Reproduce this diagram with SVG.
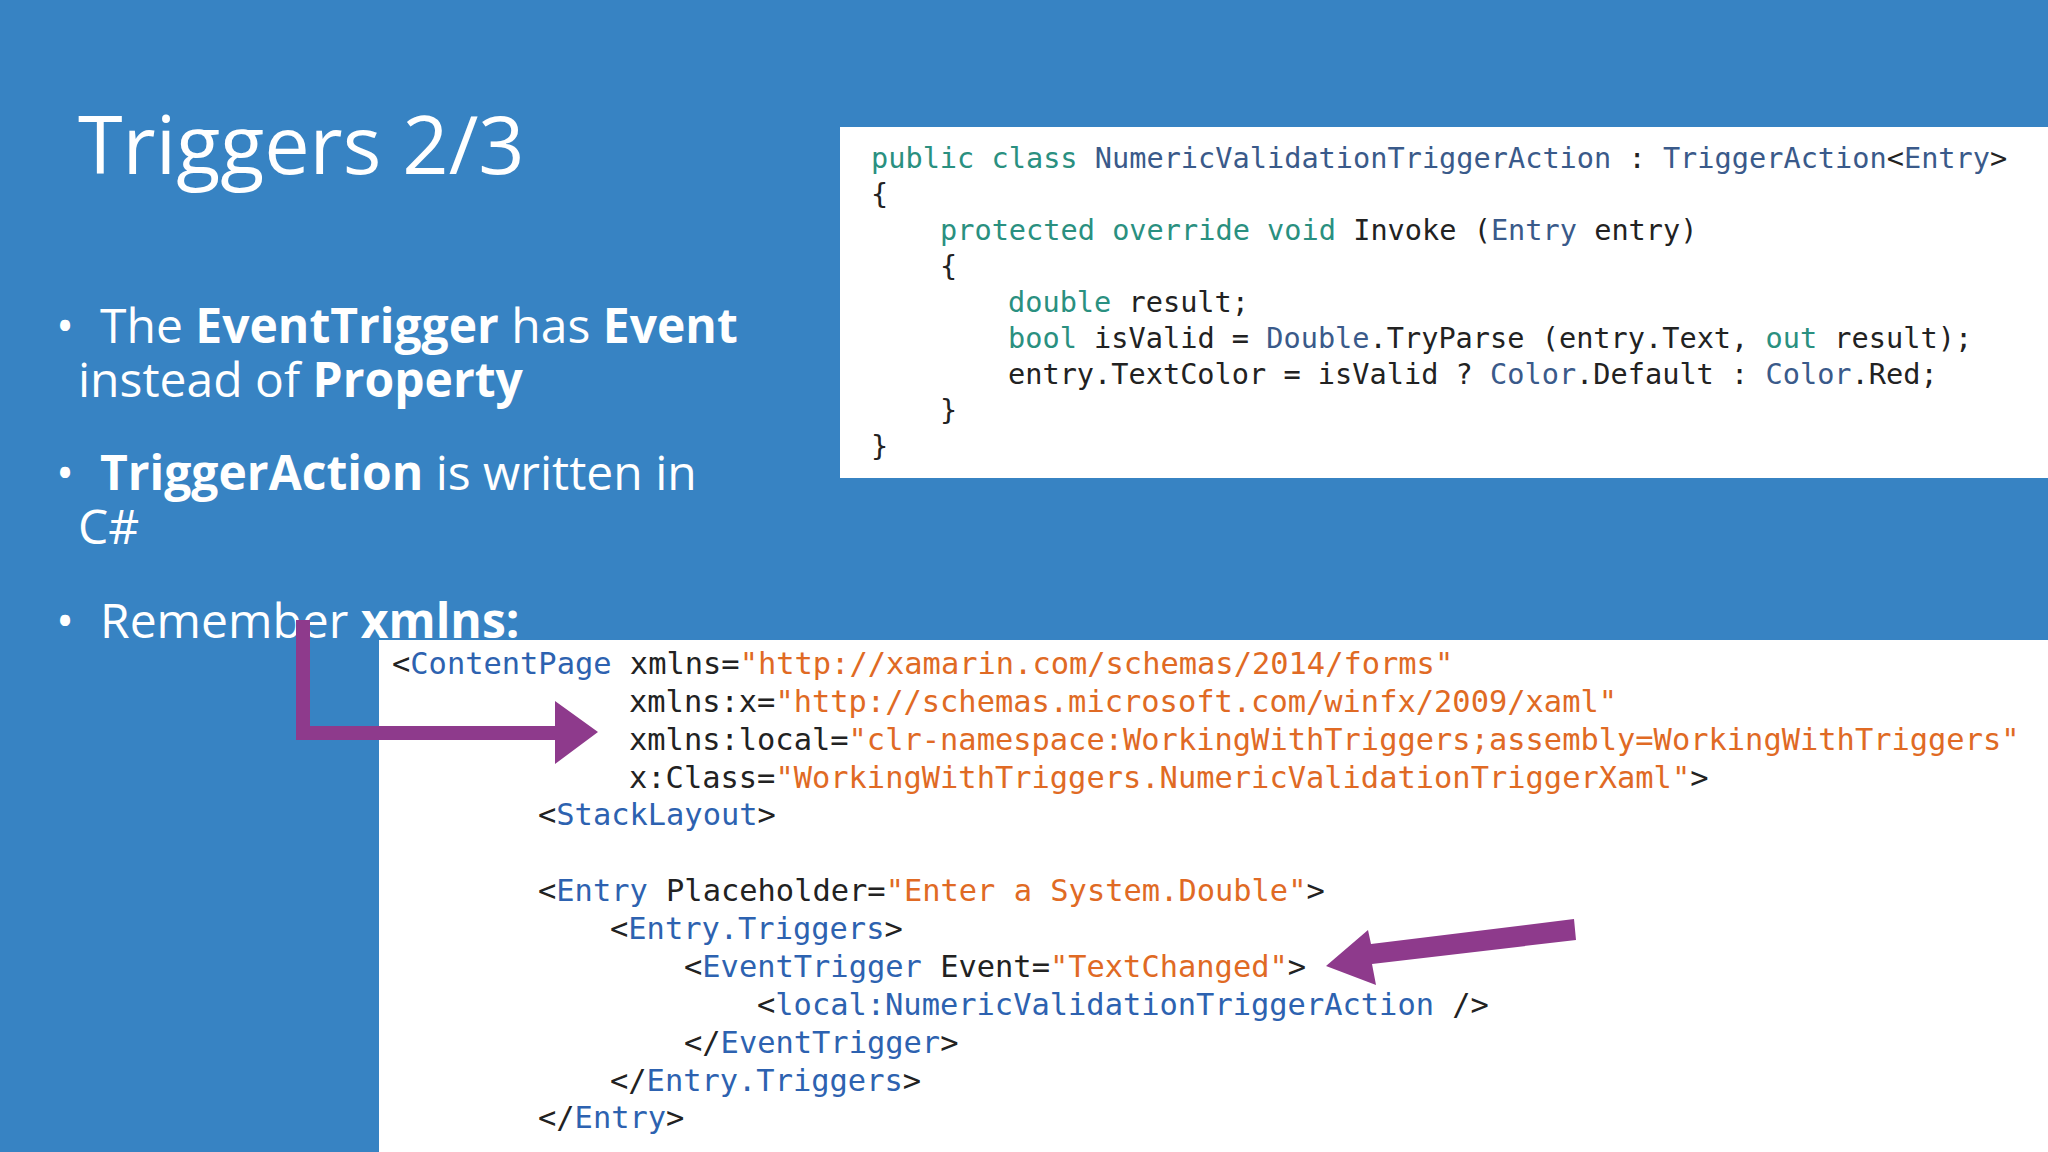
<svg xmlns="http://www.w3.org/2000/svg" width="2048" height="1152" viewBox="0 0 2048 1152">
<style>
.t{font-family:"Open Sans","Noto Sans",sans-serif;fill:#fff}
.b{font-weight:bold}
.c{font-family:"DejaVu Sans Mono","Liberation Mono",monospace;fill:#222;white-space:pre}
.k{fill:#2a9080}.n{fill:#3a5a8a}.tg{fill:#2d62b0}.s{fill:#e06a24}
</style>
<rect width="2048" height="1152" fill="#3783c3"/>
<g id="title"><text class="t" x="78" y="174" font-size="81">Triggers 2/3</text></g>
<g id="bullets" font-size="48">
<text class="t" x="56" y="343">•</text>
<text class="t" x="100" y="343">The <tspan class="b">EventTrigger</tspan> has <tspan class="b">Event</tspan></text>
<text class="t" x="78" y="397">instead of <tspan class="b">Property</tspan></text>
<text class="t" x="56" y="490">•</text>
<text class="t" x="100" y="490"><tspan class="b">TriggerAction</tspan> is written in</text>
<text class="t" x="78" y="544">C#</text>
<text class="t" x="56" y="638">•</text>
<text class="t" x="100" y="638">Remember <tspan class="b">xmlns:</tspan></text>
</g>
<g id="csharp">
<rect x="840" y="127" width="1208" height="351" fill="#fff"/>
<g font-size="28.6">
<text class="c" x="871" y="168"><tspan class="k">public class </tspan><tspan class="n">NumericValidationTriggerAction</tspan> : <tspan class="n">TriggerAction</tspan>&lt;<tspan class="n">Entry</tspan>&gt;</text>
<text class="c" x="871" y="204">{</text>
<text class="c" x="940" y="240"><tspan class="k">protected override void</tspan> Invoke (<tspan class="n">Entry</tspan> entry)</text>
<text class="c" x="940" y="276">{</text>
<text class="c" x="1008" y="312"><tspan class="k">double</tspan> result;</text>
<text class="c" x="1008" y="348"><tspan class="k">bool</tspan> isValid = <tspan class="n">Double</tspan>.TryParse (entry.Text, <tspan class="k">out</tspan> result);</text>
<text class="c" x="1008" y="384">entry.TextColor = isValid ? <tspan class="n">Color</tspan>.Default : <tspan class="n">Color</tspan>.Red;</text>
<text class="c" x="940" y="420">}</text>
<text class="c" x="871" y="456">}</text>
</g>
</g>
<g id="xaml">
<rect x="379" y="640" width="1669" height="512" fill="#fff"/>
<g font-size="30.4">
<text class="c" x="392" y="674">&lt;<tspan class="tg">ContentPage</tspan> xmlns=<tspan class="s">"http://xamarin.com/schemas/2014/forms"</tspan></text>
<text class="c" x="629" y="712">xmlns:x=<tspan class="s">"http://schemas.microsoft.com/winfx/2009/xaml"</tspan></text>
<text class="c" x="629" y="750">xmlns:local=<tspan class="s">"clr-namespace:WorkingWithTriggers;assembly=WorkingWithTriggers"</tspan></text>
<text class="c" x="629" y="788">x:Class=<tspan class="s">"WorkingWithTriggers.NumericValidationTriggerXaml"</tspan>&gt;</text>
<text class="c" x="538" y="825">&lt;<tspan class="tg">StackLayout</tspan>&gt;</text>
<text class="c" x="538" y="901">&lt;<tspan class="tg">Entry</tspan> Placeholder=<tspan class="s">"Enter a System.Double"</tspan>&gt;</text>
<text class="c" x="610" y="939">&lt;<tspan class="tg">Entry.Triggers</tspan>&gt;</text>
<text class="c" x="684" y="977">&lt;<tspan class="tg">EventTrigger</tspan> Event=<tspan class="s">"TextChanged"</tspan>&gt;</text>
<text class="c" x="757" y="1015">&lt;<tspan class="tg">local:NumericValidationTriggerAction</tspan> /&gt;</text>
<text class="c" x="684" y="1053">&lt;/<tspan class="tg">EventTrigger</tspan>&gt;</text>
<text class="c" x="610" y="1091">&lt;/<tspan class="tg">Entry.Triggers</tspan>&gt;</text>
<text class="c" x="538" y="1128">&lt;/<tspan class="tg">Entry</tspan>&gt;</text>
</g>
</g>
<g id="connectors" fill="#8e3a8c">
<path d="M296 620 H310 V726 H555 V701 L598 732 L555 764 V740 H296 Z"/>
<path d="M1574 919 L1576 940 L1372 964 L1376 985 L1326 966 L1368 930 L1371 944 Z"/>
</g>
</svg>
